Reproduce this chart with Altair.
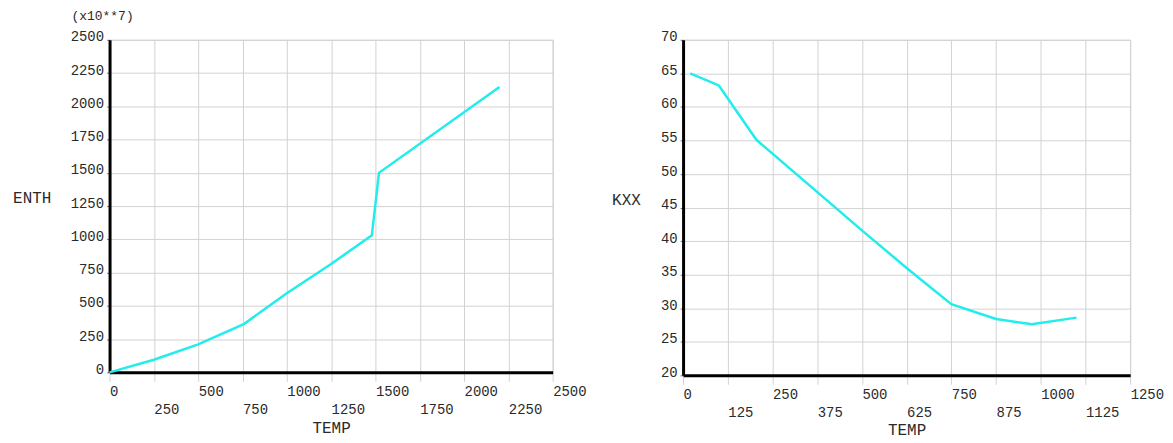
import altair as alt
import pandas as pd

# ---- data ----
enth_temp = [0, 250, 500, 760, 1000, 1250, 1480, 1520, 2200]
enth_vals = [0, 95, 210, 365, 595, 815, 1030, 1500, 2145]

kxx_temp = [20, 100, 205, 500, 625, 750, 875, 975, 1100]
kxx_vals = [65, 63.2, 55.1, 41.6, 36.0, 30.6, 28.4, 27.6, 28.6]

enth_x_ticks = list(range(0, 2501, 250))
enth_y_ticks = list(range(0, 2501, 250))
kxx_x_ticks = list(range(0, 1251, 125))
kxx_y_ticks = list(range(20, 71, 5))

FONT = "Liberation Mono"
LINE = "#22ecec"
GRID = "#d2d2d2"
TXT = "#2a2a2a"

df_enth = pd.DataFrame({"TEMP": enth_temp, "ENTH": enth_vals})
df_kxx = pd.DataFrame({"TEMP": kxx_temp, "KXX": kxx_vals})


def x_axis(ticks, step, width, title_y):
    return alt.Axis(
        values=ticks,
        format="d",
        title="TEMP",
        labelAlign="left",
        labelBaseline="top",
        labelExpr=f"(round(datum.value / {step}) % 2 == 0) ? datum.label : ['', datum.label]",
        labelLineHeight=18,
        labelPadding=3,
        labelFlush=False,
        labelOverlap=False,
        labelBound=False,
        tickSize=9,
        tickColor=GRID,
        tickWidth=1,
        domainColor="black",
        domainWidth=3,
        gridColor=GRID,
        gridWidth=1,
        titleAngle=0,
        titleAlign="center",
        titleBaseline="middle",
        titleX=width / 2,
        titleY=title_y,
    )


def y_axis(ticks, title, title_x, title_y):
    return alt.Axis(
        values=ticks,
        format="d",
        title=title,
        labelPadding=3,
        labelOffset=-3,
        labelFlush=False,
        labelOverlap=False,
        tickSize=3,
        tickColor="#777777",
        tickWidth=1,
        domainColor="black",
        domainWidth=3,
        gridColor=GRID,
        gridWidth=1,
        titleAngle=0,
        titleAlign="right",
        titleBaseline="middle",
        titleX=title_x,
        titleY=title_y,
    )


LW, LH = 445, 334
RW, RH = 449, 337

left = (
    alt.Chart(df_enth)
    .mark_line(color=LINE, strokeWidth=2.5)
    .encode(
        x=alt.X("TEMP:Q", scale=alt.Scale(domain=[0, 2500], nice=False, zero=False),
                axis=x_axis(enth_x_ticks, 250, LW, 55)),
        y=alt.Y("ENTH:Q", scale=alt.Scale(domain=[0, 2500], nice=False, zero=False),
                axis=y_axis(enth_y_ticks, "ENTH", -59, 158)),
    )
    .properties(
        width=LW,
        height=LH,
        title=alt.TitleParams("(x10**7)", anchor="start", frame="group", align="center",
                              dx=-7, offset=7),
    )
)

right = (
    alt.Chart(df_kxx)
    .mark_line(color=LINE, strokeWidth=2.5)
    .encode(
        x=alt.X("TEMP:Q", scale=alt.Scale(domain=[0, 1250], nice=False, zero=False),
                axis=x_axis(kxx_x_ticks, 125, RW, 54)),
        y=alt.Y("KXX:Q", scale=alt.Scale(domain=[20, 70], nice=False, zero=False),
                axis=y_axis(kxx_y_ticks, "KXX", -43, 160)),
    )
    .properties(width=RW, height=RH)
)

chart = (
    alt.hconcat(left, right, spacing=131, bounds="flush")
    .properties(padding={"left": 4, "top": 0, "right": 0, "bottom": 0})
    .configure_view(stroke=GRID)
    .configure_axis(
        labelFont=FONT,
        labelFontSize=14,
        labelColor=TXT,
        titleFont=FONT,
        titleFontSize=16,
        titleFontWeight="normal",
        titleColor=TXT,
    )
    .configure_title(font=FONT, fontSize=13, fontWeight="normal", color=TXT)
)

chart.save("out.html", embed_options={"renderer": "svg", "actions": False})
